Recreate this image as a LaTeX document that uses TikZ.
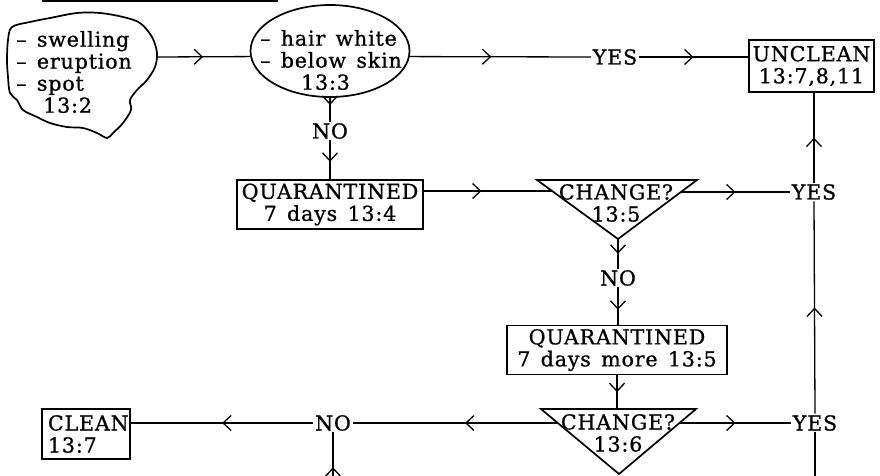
\documentclass[tikz,border=0pt]{standalone}
\usepackage{fontspec}
\setmainfont{DejaVu Serif}[LetterSpace=4,WordSpace=1.4,FakeBold=0.9]
\usetikzlibrary{arrows.meta,decorations.markings,shapes.geometric}

\tikzset{
  every node/.style={font=\fontsize{20.6}{22}\selectfont, inner sep=0pt},
  box/.style={draw, line width=1.7pt, align=center},
  lbl/.style={fill=white, inner sep=1.5pt},
  conn/.style={line width=1.3pt},
  shapeline/.style={line width=1.7pt, line join=miter},
  midarr/.style={postaction={decorate},
    decoration={markings, mark=at position #1 with
      {\arrow{Straight Barb[length=8pt,width=15pt,line width=1.3pt]}}}},
  midarr/.default=0.5,
}

\begin{document}
\begin{tikzpicture}[x=1pt,y=-1pt]
\useasboundingbox (0,0) rectangle (880,476);

% heading rule
\fill (42,0) rectangle (278,2.5);

% symptom cloud
\draw[shapeline] plot[smooth cycle, tension=0.55] coordinates {
  (12,27) (30,22) (50,18) (77,13) (100,13) (123,17) (140,23) (152,37)
  (157,53) (155,67) (147,80) (137,90) (130,100) (131,110) (123,123)
  (113,133) (107,138) (97,133) (83,128) (67,127) (50,123) (37,117)
  (23,110) (17,100) (10,93) (8,77) (7,60) (8,40)};
\node[align=left] (cloudtxt) at (74,72)
  {\textendash{} swelling\\\textendash{} eruption\\\textendash{} spot\\\hspace*{27pt}13:2};
\coordinate (cloudR) at (156,57);

% white hair test
\node[ellipse, draw, line width=1.7pt, minimum width=159pt, minimum height=92pt] (hair) at (330,51) {};
\node[align=left] (hairtxt) at (331,60)
  {\textendash{} hair white\\\textendash{} below skin\\\hspace*{41pt}13:3};

% outcome boxes
\node[box, minimum width=125pt, minimum height=52pt] (unclean) at (811.5,66) {UNCLEAN\\13:7,8,11};
\node[box, minimum width=186pt, minimum height=49pt] (q1) at (330,204.5) {QUARANTINED\\7 days 13:4};
\node[box, minimum width=220pt, minimum height=49pt] (q2) at (617,350) {QUARANTINED\\7 days more 13:5};
\node[box, align=left, minimum width=88pt, minimum height=50pt, text width=76pt] (clean) at (86,434) {CLEAN\\13:7};

% decision triangles
\coordinate (t1l) at (537,180);
\coordinate (t1r) at (697,180);
\coordinate (t1b) at (618,239);
\draw[shapeline] (t1l) -- (t1r) -- (t1b) -- cycle;
\node[align=center] (ch1) at (616,203) {CHANGE?\\13:5};
\coordinate (t1in) at (552,191);
\coordinate (t1out) at (681,192);

\coordinate (t2l) at (541,409);
\coordinate (t2r) at (696,409);
\coordinate (t2b) at (619,474);
\coordinate (t2t) at (618,409);
\draw[shapeline] (t2l) -- (t2r) -- (t2b) -- cycle;
\node[align=center] (ch2) at (618,433) {CHANGE?\\13:6};
\coordinate (t2in) at (557,423);
\coordinate (t2out) at (680,423);

% answer labels
\node[lbl] (yes1) at (615,57) {YES};
\node[lbl] (no1) at (330,131) {NO};
\node[lbl] (yes2) at (814,192) {YES};
\node[lbl] (no2) at (618,278) {NO};
\node[lbl] (no3) at (333,423) {NO};
\node[lbl] (yes3) at (815,423) {YES};

% free ends at the lower edge
\coordinate (bot1) at (333,476);
\coordinate (bot2) at (815,476);

% connectors
\draw[conn, midarr=0.5] (cloudR) -- (hair.184);
\draw[conn, midarr=0.45] (hair.-4) -- (yes1.west);
\draw[conn, midarr=0.5] (yes1.east) -- (yes1.east -| unclean.west);
\draw[conn, midarr=0.3] (hair.south) -- (no1.north);
\draw[conn, midarr=0.55] (no1.south) -- (q1.north);
\draw[conn, midarr=0.45] (t1in -| q1.east) -- (t1in);
\draw[conn, midarr=0.5] (t1out) -- (yes2.west);
\draw[conn, midarr=0.5] (t1b) -- (no2.north);
\draw[conn, midarr=0.6] (no2.south) -- (no2.south |- q2.north);
\draw[conn, midarr=0.5] (q2.south) -- (q2.south |- t2t);
\draw[conn, midarr=0.45] (t2in) -- (no3.east);
\draw[conn, midarr=0.5] (no3.west) -- (no3.west -| clean.east);
\draw[conn, midarr=0.2] (bot1) -- (no3.south);
\draw[conn, midarr=0.5] (t2out) -- (yes3.west);
\draw[conn] (bot2) -- (yes3.south);
\draw[conn, midarr=0.5] (yes3.north) -- (yes2.south);
\draw[conn, midarr=0.5] (yes2.north) -- (yes2.north |- unclean.south);
\end{tikzpicture}
\end{document}
